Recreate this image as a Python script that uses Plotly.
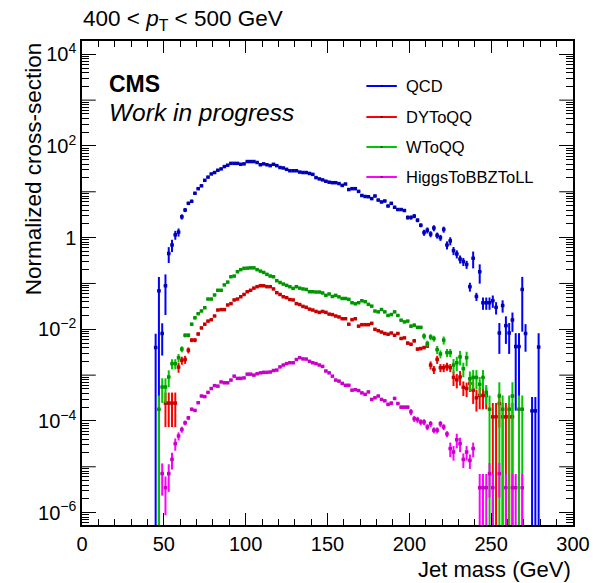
import plotly.graph_objects as go

# ---------------- data (bin centres in GeV, bin width 2 GeV) ----------------
qcd_mass = list(range(45, 273, 2)) + [275, 277, 279]
qcd_val = [
    0.0040, 0.069, 0.0081, 0.089, 0.45, 0.69, 1.15, 1.32, 2.85, 4.0,
    5.6, 6.2, 9.3, 11.7, 13.5, 17.8, 20.9, 24.5, 26.3, 29.5,
    31.6, 35.5, 38.0, 41.7, 41.7, 41.7, 39.8, 40.7, 45.7, 45.7,
    45.7, 43.6, 38.9, 40.7, 38.9, 37.2, 39.8, 37.2, 33.9, 33.1,
    30.9, 28.8, 28.8, 28.8, 26.9, 26.3, 26.3, 25.1, 24.0, 20.4,
    19.1, 18.2, 17.0, 16.2, 15.8, 15.8, 15.1, 13.8, 14.8, 11.2,
    11.7, 11.7, 10.2, 8.3, 7.9, 7.8, 7.1, 8.1, 6.6, 6.0,
    6.3, 4.9, 5.6, 4.6, 4.1, 4.1, 3.9, 2.75, 2.75, 2.95,
    2.4, 1.86, 1.29, 1.45, 1.20, 1.62, 1.12, 1.00, 1.51, 0.69,
    0.85, 0.52, 0.44, 0.34, 0.30, 0.26, 0.085, 0.355, 0.052, 0.18,
    0.038, 0.038, 0.038, 0.042, 0.030, 0.0083, 0.033, 0.012, 0.0083, 0.016,
    0.0042, 0.0042, 0.074, 0.0081,
    1.66e-4, 1.66e-4, 0.0041,
]
qcd_relerr = [
    1.0, 1.0, 0.67, 0.77, 0.38, 0.30, 0.22, 0.20, 0.13, 0.10,
    0.08, 0.08, 0.06, 0.05, 0.05, 0.04, 0.04, 0.03, 0.03, 0.03,
    0.03, 0.03, 0.03, 0.03, 0.03, 0.03, 0.03, 0.03, 0.03, 0.03,
    0.03, 0.03, 0.03, 0.03, 0.03, 0.03, 0.03, 0.03, 0.03, 0.03,
    0.03, 0.03, 0.03, 0.03, 0.03, 0.03, 0.03, 0.03, 0.03, 0.04,
    0.04, 0.04, 0.04, 0.04, 0.04, 0.04, 0.04, 0.04, 0.04, 0.04,
    0.04, 0.04, 0.04, 0.04, 0.04, 0.04, 0.06, 0.06, 0.06, 0.06,
    0.06, 0.06, 0.06, 0.06, 0.06, 0.06, 0.06, 0.10, 0.10, 0.10,
    0.10, 0.10, 0.15, 0.15, 0.15, 0.15, 0.15, 0.15, 0.15, 0.20,
    0.20, 0.20, 0.20, 0.20, 0.20, 0.20, 0.22, 0.40, 0.20, 0.45,
    0.30, 0.30, 0.30, 0.30, 0.30, 0.65, 0.30, 0.60, 0.65, 0.45,
    0.96, 0.96, 0.88, 0.60,
    1.0, 1.0, 1.0,
]

dy_mass = list(range(51, 249, 2)) + [251, 253, 255, 257, 259, 261, 263]
dy_val = [
    2.45e-4, 2.45e-4, 2.45e-4, 2.45e-4, 1.5e-3, 2.1e-3, 2.2e-3, 3.5e-3, 5.8e-3, 5.8e-3,
    7.9e-3, 0.0107, 0.0129, 0.0151, 0.0162, 0.0195, 0.0263, 0.0269, 0.0269, 0.0339,
    0.0363, 0.0437, 0.0457, 0.0513, 0.0575, 0.066, 0.071, 0.079, 0.085, 0.089,
    0.089, 0.085, 0.085, 0.076, 0.063, 0.0575, 0.0513, 0.049, 0.0447, 0.0437,
    0.0363, 0.0347, 0.0316, 0.0302, 0.0275, 0.0263, 0.0245, 0.0234, 0.0245, 0.0234,
    0.0214, 0.0209, 0.0195, 0.0186, 0.0170, 0.0170, 0.0129, 0.0162, 0.0170, 0.0117,
    0.0126, 0.0126, 0.0126, 0.0135, 0.0100, 0.0093, 0.0087, 0.0081, 0.0078, 0.0083,
    0.0074, 0.0081, 0.0063, 0.0065, 0.0050, 0.0047, 0.0056, 0.0037, 0.0038, 0.0040,
    0.0043, 0.00166, 0.00132, 0.0022, 0.00145, 0.00145, 0.00155, 0.00145, 8.9e-4, 7.9e-4,
    9.1e-4, 5.4e-4, 5.1e-4, 6.6e-4, 4.7e-4, 3.2e-4, 3.6e-4, 3.6e-4, 3.6e-4,
    1.23e-4, 1.23e-4, 2.4e-4, 1.23e-4, 1.23e-4, 1.23e-4, 1.23e-4,
]
dy_relerr = [
    0.70, 0.70, 0.70, 0.70, 0.25, 0.20, 0.20, 0.15, 0.10, 0.10,
    0.08, 0.06, 0.06, 0.06, 0.06, 0.03, 0.03, 0.03, 0.03, 0.03,
    0.03, 0.03, 0.03, 0.03, 0.03, 0.03, 0.03, 0.03, 0.03, 0.03,
    0.03, 0.03, 0.03, 0.03, 0.03, 0.03, 0.03, 0.03, 0.03, 0.03,
    0.03, 0.03, 0.03, 0.03, 0.03, 0.03, 0.03, 0.03, 0.03, 0.03,
    0.03, 0.03, 0.03, 0.03, 0.03, 0.03, 0.03, 0.03, 0.03, 0.03,
    0.03, 0.03, 0.03, 0.03, 0.03, 0.03, 0.03, 0.03, 0.03, 0.03,
    0.03, 0.03, 0.03, 0.03, 0.08, 0.08, 0.08, 0.08, 0.08, 0.08,
    0.08, 0.20, 0.20, 0.20, 0.20, 0.20, 0.20, 0.20, 0.35, 0.35,
    0.35, 0.35, 0.35, 0.35, 0.50, 0.50, 0.50, 0.50, 0.50,
    1.0, 1.0, 0.70, 1.0, 1.0, 1.0, 1.0,
]

w_mass = list(range(47, 249, 2)) + [249, 255, 257, 261, 263, 267, 269]
w_val = [
    1.8e-4, 5.5e-4, 5.5e-4, 9.1e-4, 1.78e-3, 1.78e-3, 2.4e-3, 3.7e-3, 7.4e-3, 7.4e-3,
    0.0129, 0.0178, 0.0219, 0.0251, 0.0295, 0.0457, 0.0457, 0.056, 0.071, 0.071,
    0.093, 0.107, 0.14, 0.145, 0.18, 0.20, 0.214, 0.216, 0.219, 0.219,
    0.20, 0.186, 0.174, 0.158, 0.145, 0.14, 0.115, 0.105, 0.097, 0.091,
    0.085, 0.078, 0.085, 0.079, 0.076, 0.074, 0.066, 0.066, 0.065, 0.065,
    0.062, 0.055, 0.059, 0.052, 0.055, 0.051, 0.047, 0.047, 0.045, 0.038,
    0.036, 0.038, 0.042, 0.040, 0.035, 0.032, 0.025, 0.024, 0.027, 0.024,
    0.020, 0.021, 0.024, 0.020, 0.0158, 0.0145, 0.0151, 0.0117, 0.0123, 0.011,
    0.011, 0.0071, 0.0049, 0.0068, 0.0063, 0.0036, 0.0029, 0.0058, 0.0031, 0.0031,
    0.00166, 0.00186, 0.0025, 0.00138, 0.0024, 8.3e-4, 8.9e-4, 8.9e-4, 6.3e-4, 8.9e-4,
    4.2e-4,
    1.8e-4, 3.5e-4, 1.8e-4, 1.8e-4, 3.5e-4, 1.8e-4, 1.8e-4,
]
w_relerr = [
    1.0, 0.55, 0.55, 0.40, 0.25, 0.25, 0.20, 0.15, 0.10, 0.10,
    0.08, 0.07, 0.06, 0.06, 0.05, 0.05, 0.05, 0.03, 0.03, 0.03,
    0.03, 0.03, 0.03, 0.03, 0.03, 0.03, 0.03, 0.03, 0.03, 0.03,
    0.03, 0.03, 0.03, 0.03, 0.03, 0.03, 0.03, 0.03, 0.03, 0.03,
    0.03, 0.03, 0.03, 0.03, 0.03, 0.03, 0.03, 0.03, 0.03, 0.03,
    0.03, 0.03, 0.03, 0.03, 0.03, 0.03, 0.03, 0.03, 0.03, 0.03,
    0.03, 0.03, 0.03, 0.03, 0.03, 0.03, 0.03, 0.05, 0.05, 0.05,
    0.05, 0.05, 0.05, 0.05, 0.05, 0.05, 0.05, 0.08, 0.08, 0.08,
    0.08, 0.15, 0.15, 0.15, 0.15, 0.20, 0.20, 0.20, 0.20, 0.20,
    0.35, 0.35, 0.35, 0.35, 0.35, 0.45, 0.45, 0.45, 0.45, 0.45,
    0.45,
    1.0, 1.0, 1.0, 1.0, 1.0, 1.0, 1.0,
]

h_mass = list(range(49, 241, 2)) + [243, 245, 247, 249, 251, 255, 259, 263, 265, 269]
h_val = [
    7.1e-6, 3.5e-6, 7.1e-6, 1.45e-5, 3.2e-5, 4.7e-5, 6.5e-5, 9.1e-5, 1.17e-4, 1.8e-4,
    1.7e-4, 2.5e-4, 3.5e-4, 3.4e-4, 4.2e-4, 5.1e-4, 5.9e-4, 5.75e-4, 7.1e-4, 6.8e-4,
    6.8e-4, 7.8e-4, 9.5e-4, 8.5e-4, 8.5e-4, 8.7e-4, 1.05e-3, 1.05e-3, 1.0e-3, 1.07e-3,
    1.12e-3, 1.15e-3, 1.15e-3, 1.17e-3, 1.26e-3, 1.29e-3, 1.51e-3, 1.66e-3, 1.78e-3, 1.86e-3,
    1.86e-3, 2.19e-3, 2.4e-3, 2.26e-3, 2.24e-3, 2.0e-3, 1.86e-3, 1.78e-3, 1.66e-3, 1.55e-3,
    1.23e-3, 1.12e-3, 9.5e-4, 7.8e-4, 7.4e-4, 6.6e-4, 6.0e-4, 6.0e-4, 4.7e-4, 4.8e-4,
    4.6e-4, 4.1e-4, 3.8e-4, 4.3e-4, 2.95e-4, 3.2e-4, 3.5e-4, 2.95e-4, 2.75e-4, 2.3e-4,
    2.45e-4, 3.1e-4, 2.4e-4, 2.0e-4, 2.0e-4, 2.0e-4, 1.58e-4, 1.12e-4, 1.07e-4, 9.5e-5,
    9.5e-5, 7.4e-5, 8.7e-5, 6.3e-5, 6.3e-5, 8.7e-5, 7.4e-5, 5.2e-5, 2.5e-5, 2.1e-5,
    3.9e-5, 3.2e-5, 1.45e-5, 2.1e-5, 1.38e-5, 2.5e-5,
    3.5e-6, 3.5e-6, 3.5e-6, 7.1e-6, 3.5e-6, 7.1e-6, 3.5e-6, 3.5e-6, 3.5e-6, 3.5e-6,
]
h_relerr = [
    0.67, 0.75, 0.60, 0.40, 0.30, 0.20, 0.15, 0.12, 0.10, 0.08,
    0.06, 0.06, 0.06, 0.06, 0.06, 0.06, 0.03, 0.03, 0.03, 0.03,
    0.03, 0.03, 0.03, 0.03, 0.03, 0.03, 0.03, 0.03, 0.03, 0.03,
    0.03, 0.03, 0.03, 0.03, 0.03, 0.03, 0.03, 0.03, 0.03, 0.03,
    0.03, 0.03, 0.03, 0.03, 0.03, 0.03, 0.03, 0.03, 0.03, 0.03,
    0.03, 0.03, 0.03, 0.03, 0.03, 0.03, 0.03, 0.03, 0.03, 0.03,
    0.03, 0.03, 0.03, 0.03, 0.03, 0.03, 0.03, 0.03, 0.03, 0.08,
    0.08, 0.08, 0.08, 0.08, 0.08, 0.08, 0.15, 0.15, 0.15, 0.15,
    0.15, 0.15, 0.15, 0.15, 0.15, 0.15, 0.15, 0.15, 0.35, 0.35,
    0.35, 0.35, 0.35, 0.35, 0.35, 0.35,
    1.0, 1.0, 1.0, 0.70, 1.0, 0.70, 1.0, 1.0, 1.0, 1.0,
]

series_names = ["QCD", "DYToQQ", "WToQQ", "HiggsToBBZToLL"]
series_colors = ["#0000ff", "#ff0000", "#00c800", "#ff00ff"]
marker_colors = ["#0000b4", "#c80000", "#009600", "#c800c8"]
bin_half_width = 1.0

x_tick_vals = [0, 50, 100, 150, 200, 250, 300]
y_label_exps = [-6, -4, -2, 0, 2, 4]
y_label_text = ["10<sup>\u22126</sup>", "10<sup>\u22124</sup>", "10<sup>\u22122</sup>", "1",
                "10<sup>2</sup>", "10<sup>4</sup>"]
y_unlabelled_exps = [-5, -3, -1, 1, 3]

# ---------------- figure ----------------
FONT = "Liberation Sans, Arial, Helvetica, sans-serif"
fig = go.Figure()

data = [
    (qcd_mass, qcd_val, qcd_relerr),
    (dy_mass, dy_val, dy_relerr),
    (w_mass, w_val, w_relerr),
    (h_mass, h_val, h_relerr),
]
for (mass, val, rel), name, col, mcol in zip(data, series_names, series_colors, marker_colors):
    assert len(mass) == len(val) == len(rel), (name, len(mass), len(val), len(rel))
    err = [v * r for v, r in zip(val, rel)]
    fig.add_trace(go.Scatter(
        x=mass, y=val, mode="markers", name=name, showlegend=False,
        marker=dict(color=mcol, size=3.5, symbol="square", line=dict(width=0)),
        error_y=dict(type="data", array=err, arrayminus=err, symmetric=False,
                     color=col, thickness=2, width=0),
        error_x=dict(type="constant", value=bin_half_width, color=col, thickness=1.5, width=0),
    ))

# plot area geometry in paper coords
L, R, T, B = 82, 21, 41, 58
PW = 602 - L - R

def py(pix):
    return (583 - B - pix) / (583 - T - B)

def px(pix):
    return (pix - L) / PW

# long ticks on unlabelled decades (left and right frame)
for e in y_unlabelled_exps:
    for x0, x1 in [(0, 14 / PW), (1 - 14 / PW, 1)]:
        fig.add_shape(type="line", xref="paper", yref="y", x0=x0, x1=x1,
                      y0=10.0 ** e, y1=10.0 ** e, line=dict(color="black", width=1))

# legend (drawn manually)
leg_y = [86, 117, 147, 177]
for name, col, yy in zip(series_names, series_colors, leg_y):
    fig.add_shape(type="line", xref="paper", yref="paper",
                  x0=px(371), x1=px(402), y0=py(yy), y1=py(yy),
                  line=dict(color=col, width=2))
    fig.add_shape(type="rect", xref="paper", yref="paper",
                  x0=px(385.5), x1=px(387.5), y0=py(yy - 1), y1=py(yy + 1),
                  line=dict(width=0), fillcolor="rgba(0,0,0,0.5)")
    fig.add_annotation(text=name, xref="paper", yref="paper", x=px(409), y=py(yy),
                       xanchor="left", yanchor="middle", showarrow=False,
                       font=dict(family=FONT, size=16.5, color="black"))

# CMS labels
fig.add_annotation(text="<b>CMS</b>", xref="paper", yref="paper", x=px(107), y=py(84),
                   xanchor="left", yanchor="middle", showarrow=False,
                   font=dict(family=FONT, size=23, color="black"))
fig.add_annotation(text="<i>Work in progress</i>", xref="paper", yref="paper", x=px(107), y=py(112),
                   xanchor="left", yanchor="middle", showarrow=False,
                   font=dict(family=FONT, size=24.5, color="black"))
# title
fig.add_annotation(text="400 &lt; <i>p</i><sub>T</sub> &lt; 500 GeV", xref="paper", yref="paper",
                   x=px(81), y=py(20), xanchor="left", yanchor="middle", showarrow=False,
                   font=dict(family=FONT, size=22.5, color="black"))
# axis titles
fig.add_annotation(text="Normalized cross-section", xref="paper", yref="paper",
                   x=px(33), y=py(40), xanchor="center", yanchor="top", textangle=-90,
                   showarrow=False, font=dict(family=FONT, size=22.5, color="black"))
fig.add_annotation(text="Jet mass (GeV)", xref="paper", yref="paper",
                   x=px(581), y=py(569), xanchor="right", yanchor="middle",
                   showarrow=False, font=dict(family=FONT, size=22, color="black"))

y_minor = [k * 10.0 ** e for e in range(-7, 5) for k in range(2, 10)]

fig.update_layout(
    width=602, height=583,
    margin=dict(l=L, r=R, t=T, b=B, pad=0),
    paper_bgcolor="white", plot_bgcolor="white",
    font=dict(family=FONT, size=20, color="black"),
    showlegend=False,
    xaxis=dict(
        range=[0, 300], showgrid=False, zeroline=False,
        showline=True, linecolor="black", linewidth=1.5, mirror="allticks",
        ticks="inside", ticklen=12, tickwidth=1, tickcolor="black",
        tickmode="array", tickvals=x_tick_vals,
        ticktext=[str(v) for v in x_tick_vals],
        tickfont=dict(family=FONT, size=20),
        minor=dict(ticks="inside", ticklen=6, tickwidth=1, tickcolor="black",
                   dtick=10, tick0=0, showgrid=False),
    ),
    yaxis=dict(
        type="log", range=[-6.27, 4.29], showgrid=False, zeroline=False,
        showline=True, linecolor="black", linewidth=1.5, mirror="allticks",
        ticks="inside", ticklen=14, tickwidth=1, tickcolor="black",
        tickmode="array", tickvals=[10.0 ** e for e in y_label_exps],
        ticktext=y_label_text,
        tickfont=dict(family=FONT, size=20),
        minor=dict(ticks="inside", ticklen=7, tickwidth=1, tickcolor="black",
                   tickmode="array", tickvals=y_minor, showgrid=False),
    ),
)

fig.write_html("out.html")
